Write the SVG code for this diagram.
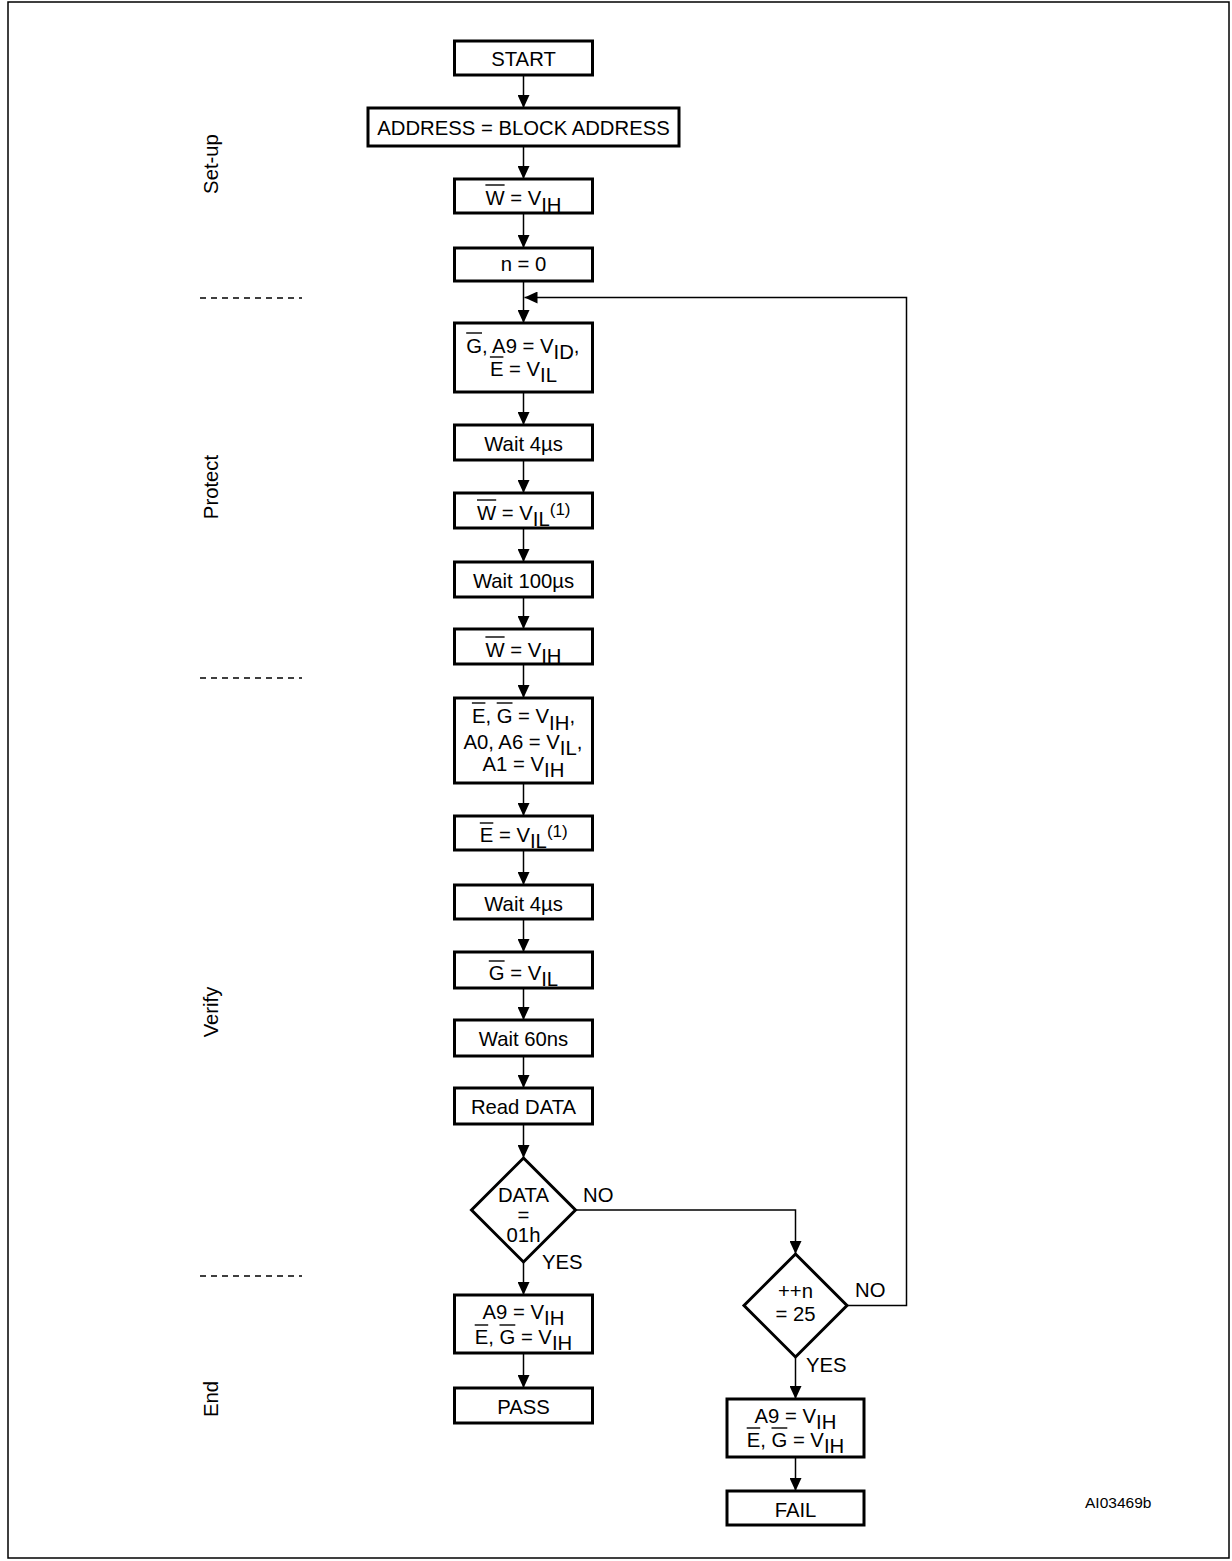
<svg xmlns="http://www.w3.org/2000/svg" width="1232" height="1561" viewBox="0 0 1232 1561">
<style>
.box{fill:#fff;stroke:#000;stroke-width:3}
.t{font-family:"Liberation Sans",Arial,sans-serif;font-size:20.3px;fill:#000}
.m{text-anchor:middle}
.c{stroke:#000;stroke-width:1.5;fill:none}
.ob{stroke:#000;stroke-width:1.4}
.d{stroke:#000;stroke-width:1.3;stroke-dasharray:6,5}
.sup{font-size:17px}
</style>
<defs>
<marker id="ah" markerUnits="userSpaceOnUse" markerWidth="14" markerHeight="12" refX="13" refY="6" orient="auto">
<path d="M0,0 L13,6 L0,12 Z" fill="#000"/>
</marker>
</defs>
<rect x="8" y="2" width="1221" height="1556" fill="#fff" stroke="#000" stroke-width="1.5"/>

<g id="phases">
<line class="d" x1="200" y1="298" x2="302" y2="298"/>
<line class="d" x1="200" y1="678" x2="302" y2="678"/>
<line class="d" x1="200" y1="1276" x2="302" y2="1276"/>
<text class="t m" transform="translate(218,164) rotate(-90)">Set-up</text>
<text class="t m" transform="translate(218,487) rotate(-90)">Protect</text>
<text class="t m" transform="translate(218,1012) rotate(-90)">Verify</text>
<text class="t m" transform="translate(218,1399) rotate(-90)">End</text>
</g>

<g id="connectors">
<line class="c" x1="523.5" y1="75" x2="523.5" y2="108" marker-end="url(#ah)"/>
<line class="c" x1="523.5" y1="146" x2="523.5" y2="179" marker-end="url(#ah)"/>
<line class="c" x1="523.5" y1="213" x2="523.5" y2="248" marker-end="url(#ah)"/>
<line class="c" x1="523.5" y1="281" x2="523.5" y2="323" marker-end="url(#ah)"/>
<line class="c" x1="523.5" y1="392" x2="523.5" y2="425" marker-end="url(#ah)"/>
<line class="c" x1="523.5" y1="460" x2="523.5" y2="493" marker-end="url(#ah)"/>
<line class="c" x1="523.5" y1="528" x2="523.5" y2="562" marker-end="url(#ah)"/>
<line class="c" x1="523.5" y1="597" x2="523.5" y2="629" marker-end="url(#ah)"/>
<line class="c" x1="523.5" y1="664" x2="523.5" y2="698" marker-end="url(#ah)"/>
<line class="c" x1="523.5" y1="783" x2="523.5" y2="816" marker-end="url(#ah)"/>
<line class="c" x1="523.5" y1="850" x2="523.5" y2="885" marker-end="url(#ah)"/>
<line class="c" x1="523.5" y1="919" x2="523.5" y2="952" marker-end="url(#ah)"/>
<line class="c" x1="523.5" y1="988" x2="523.5" y2="1020" marker-end="url(#ah)"/>
<line class="c" x1="523.5" y1="1056" x2="523.5" y2="1088" marker-end="url(#ah)"/>
<line class="c" x1="523.5" y1="1124" x2="523.5" y2="1158" marker-end="url(#ah)"/>
<line class="c" x1="523.5" y1="1262" x2="523.5" y2="1295" marker-end="url(#ah)"/>
<line class="c" x1="523.5" y1="1353" x2="523.5" y2="1388" marker-end="url(#ah)"/>
<polyline class="c" points="575.5,1210 795.5,1210 795.5,1254" marker-end="url(#ah)"/>
<polyline class="c" points="847,1305.5 906.5,1305.5 906.5,297.5 524.5,297.5" marker-end="url(#ah)"/>
<line class="c" x1="795.5" y1="1357" x2="795.5" y2="1399" marker-end="url(#ah)"/>
<line class="c" x1="795.5" y1="1457" x2="795.5" y2="1491" marker-end="url(#ah)"/>
<text class="t" x="583" y="1202">NO</text>
<text class="t" x="542" y="1269">YES</text>
<text class="t" x="855" y="1297">NO</text>
<text class="t" x="806" y="1372">YES</text>
</g>

<g id="start">
<rect class="box" x="454.5" y="41" width="138" height="34"/>
<text class="t m" x="523.5" y="66">START</text>
</g>
<g id="address">
<rect class="box" x="368" y="108" width="311" height="38"/>
<text class="t m" x="523.5" y="135">ADDRESS = BLOCK ADDRESS</text>
</g>
<g id="w-vih-1">
<rect class="box" x="454.5" y="179" width="138" height="34"/>
<text class="t" x="485.4" y="205">W = V<tspan dy="7">IH</tspan></text>
<line class="ob" x1="485.4" y1="185" x2="504.6" y2="185"/>
</g>
<g id="n0">
<rect class="box" x="454.5" y="248" width="138" height="33"/>
<text class="t m" x="523.5" y="271">n = 0</text>
</g>
<g id="g-a9">
<rect class="box" x="454.5" y="323" width="138" height="69"/>
<text class="t" x="466.2" y="353">G, A9 = V<tspan dy="6">ID</tspan><tspan dy="-6">,</tspan></text>
<line class="ob" x1="466.2" y1="333" x2="482" y2="333"/>
<text class="t" x="489.9" y="376">E = V<tspan dy="6">IL</tspan></text>
<line class="ob" x1="489.9" y1="357" x2="503.4" y2="357"/>
</g>
<g id="wait4-1">
<rect class="box" x="454.5" y="425" width="138" height="35"/>
<text class="t m" x="523.5" y="451">Wait 4µs</text>
</g>
<g id="w-vil">
<rect class="box" x="454.5" y="493" width="138" height="35"/>
<text class="t" x="477" y="520">W = V<tspan dy="6">IL</tspan><tspan class="sup" dy="-11">(1)</tspan></text>
<line class="ob" x1="477" y1="500" x2="496.2" y2="500"/>
</g>
<g id="wait100">
<rect class="box" x="454.5" y="562" width="138" height="35"/>
<text class="t m" x="523.5" y="588">Wait 100µs</text>
</g>
<g id="w-vih-2">
<rect class="box" x="454.5" y="629" width="138" height="35"/>
<text class="t" x="485.4" y="657">W = V<tspan dy="6">IH</tspan></text>
<line class="ob" x1="485.4" y1="637" x2="504.6" y2="637"/>
</g>
<g id="e-g-a0">
<rect class="box" x="454.5" y="698" width="138" height="85"/>
<text class="t" x="471.9" y="723">E, G = V<tspan dy="7">IH</tspan><tspan dy="-7">,</tspan></text>
<line class="ob" x1="471.9" y1="703" x2="485.4" y2="703"/>
<line class="ob" x1="496.7" y1="703" x2="512.5" y2="703"/>
<text class="t" x="463.4" y="749">A0, A6 = V<tspan dy="6">IL</tspan><tspan dy="-6">,</tspan></text>
<text class="t" x="482.6" y="771">A1 = V<tspan dy="6">IH</tspan></text>
</g>
<g id="e-vil">
<rect class="box" x="454.5" y="816" width="138" height="34"/>
<text class="t" x="479.8" y="842">E = V<tspan dy="6">IL</tspan><tspan class="sup" dy="-11">(1)</tspan></text>
<line class="ob" x1="479.8" y1="823" x2="493.3" y2="823"/>
</g>
<g id="wait4-2">
<rect class="box" x="454.5" y="885" width="138" height="34"/>
<text class="t m" x="523.5" y="911">Wait 4µs</text>
</g>
<g id="g-vil">
<rect class="box" x="454.5" y="952" width="138" height="36"/>
<text class="t" x="488.8" y="980">G = V<tspan dy="6">IL</tspan></text>
<line class="ob" x1="488.8" y1="961" x2="504.6" y2="961"/>
</g>
<g id="wait60">
<rect class="box" x="454.5" y="1020" width="138" height="36"/>
<text class="t m" x="523.5" y="1046">Wait 60ns</text>
</g>
<g id="read">
<rect class="box" x="454.5" y="1088" width="138" height="36"/>
<text class="t m" x="523.5" y="1114">Read DATA</text>
</g>
<g id="dec-data">
<polygon class="box" points="523.5,1158 575.5,1210 523.5,1262 471.5,1210"/>
<text class="t m" x="523.5" y="1202">DATA</text>
<text class="t m" x="523.5" y="1222">=</text>
<text class="t m" x="523.5" y="1242">01h</text>
</g>
<g id="end-pass">
<rect class="box" x="454.5" y="1295" width="138" height="58"/>
<text class="t" x="482.6" y="1319">A9 = V<tspan dy="6">IH</tspan></text>
<text class="t" x="474.7" y="1344">E, G = V<tspan dy="6">IH</tspan></text>
<line class="ob" x1="474.7" y1="1325" x2="488.2" y2="1325"/>
<line class="ob" x1="499.5" y1="1325" x2="515.3" y2="1325"/>
</g>
<g id="pass">
<rect class="box" x="454.5" y="1388" width="138" height="35"/>
<text class="t m" x="523.5" y="1414">PASS</text>
</g>
<g id="dec-n">
<polygon class="box" points="795.5,1254 847,1305.5 795.5,1357 744,1305.5"/>
<text class="t m" x="795.5" y="1298">++n</text>
<text class="t m" x="795.5" y="1321">= 25</text>
</g>
<g id="end-fail">
<rect class="box" x="727" y="1399" width="137" height="58"/>
<text class="t" x="754.6" y="1423">A9 = V<tspan dy="6">IH</tspan></text>
<text class="t" x="746.7" y="1447">E, G = V<tspan dy="6">IH</tspan></text>
<line class="ob" x1="746.7" y1="1428" x2="760.2" y2="1428"/>
<line class="ob" x1="771.5" y1="1428" x2="787.3" y2="1428"/>
</g>
<g id="fail">
<rect class="box" x="727" y="1491" width="137" height="34"/>
<text class="t m" x="795.5" y="1517">FAIL</text>
</g>
<text class="t" x="1085" y="1508" style="font-size:15.5px">AI03469b</text>
</svg>
